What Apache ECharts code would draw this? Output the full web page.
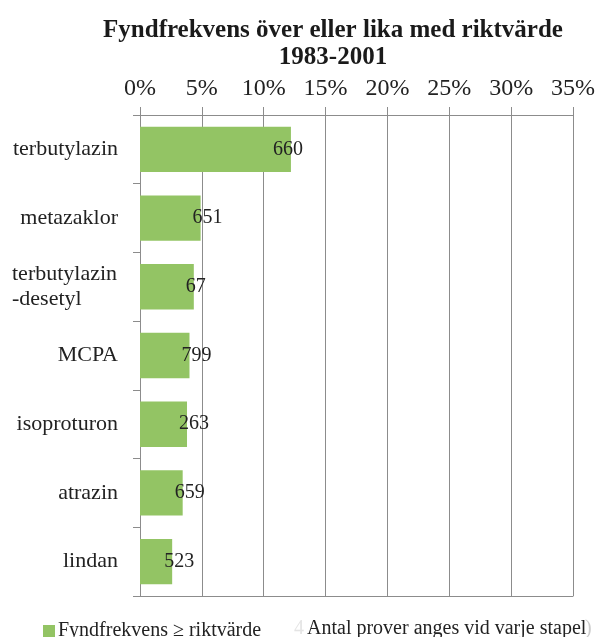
<!DOCTYPE html>
<html>
<head>
<meta charset="utf-8">
<script src="https://cdn.jsdelivr.net/npm/echarts@6/dist/echarts.min.js"></script>
<style>
  html, body { margin: 0; padding: 0; background: #fff; }
  #chart { width: 598px; height: 637px; }
</style>
</head>
<body>
<div id="chart"></div>
<script>
// Substances, top to bottom
var categories = ['terbutylazin', 'metazaklor', 'terbutylazin\n-desetyl', 'MCPA', 'isoproturon', 'atrazin', 'lindan'];
// Share of samples at or above the guideline value (%)
var frequency = [12.2, 4.9, 4.35, 4.0, 3.8, 3.45, 2.6];
// Number of samples analysed per substance
var sampleCounts = [660, 651, 67, 799, 263, 659, 523];
// Percent axis ticks
var tickValues = [0, 5, 10, 15, 20, 25, 30, 35];

var FONT = '"Liberation Serif", "Times New Roman", serif';
var TEXT = '#222222';
var LINE = '#8c8c8c';
var GREEN = '#93c464';

var chart = echarts.init(document.getElementById('chart'), null, { renderer: 'canvas' });

chart.setOption({
  backgroundColor: '#fff',
  animation: false,
  textStyle: { fontFamily: FONT, color: TEXT },
  title: {
    text: 'Fyndfrekvens över eller lika med riktvärde\n1983-2001',
    left: 328,
    top: 12,
    textAlign: 'center',
    textStyle: { fontFamily: FONT, fontWeight: 'bold', fontSize: 25, lineHeight: 27, color: '#1a1a1a' }
  },
  legend: {
    left: 38,
    top: 616,
    itemWidth: 12,
    itemHeight: 12,
    itemGap: 4,
    icon: 'rect',
    textStyle: { fontFamily: FONT, fontSize: 20, color: TEXT, padding: [0, 0, 0, -2] },
    data: ['Fyndfrekvens ≥ riktvärde']
  },
  graphic: [
    {
      type: 'text',
      left: 294,
      top: 619,
      style: { text: '4', font: '20px ' + FONT, fill: '#e4e4e4' }
    },
    {
      type: 'text',
      left: 307,
      top: 619,
      style: { text: 'Antal prover anges vid varje stapel', font: '20px ' + FONT, fill: TEXT }
    },
    {
      type: 'text',
      left: 585,
      top: 619,
      style: { text: ')', font: '20px ' + FONT, fill: '#cccccc' }
    }
  ],
  grid: { left: 140, right: 24, top: 115, bottom: 41, containLabel: false },
  xAxis: [
    {
      type: 'value',
      position: 'top',
      min: 0,
      max: 35,
      interval: 5,
      axisLine: { show: true, lineStyle: { color: LINE, width: 1 } },
      axisTick: { show: true, length: 8, lineStyle: { color: LINE } },
      axisLabel: {
        margin: 14,
        fontFamily: FONT,
        fontSize: 24,
        color: TEXT,
        formatter: function (v) { return tickValues.indexOf(v) >= 0 ? v + '%' : ''; }
      },
      splitLine: { show: true, lineStyle: { color: LINE, width: 1 } }
    },
    {
      type: 'value',
      position: 'bottom',
      min: 0,
      max: 35,
      interval: 5,
      axisLine: { show: true, lineStyle: { color: LINE, width: 1 } },
      axisTick: { show: false },
      axisLabel: { show: false },
      splitLine: { show: false }
    }
  ],
  yAxis: {
    type: 'category',
    inverse: true,
    data: categories,
    axisLine: { show: true, lineStyle: { color: LINE, width: 1 } },
    axisTick: { show: true, length: 7, alignWithLabel: false, lineStyle: { color: LINE } },
    axisLabel: {
      margin: 22,
      fontFamily: FONT,
      fontSize: 22,
      color: TEXT,
      formatter: function (v) {
        if (v.indexOf('\n') >= 0) {
          return v.split('\n').map(function (s) { return '{l|' + s + '}'; }).join('\n');
        }
        return v;
      },
      rich: {
        l: { width: 106, align: 'left', fontFamily: FONT, fontSize: 22, lineHeight: 25, color: TEXT }
      }
    }
  },
  series: [
    {
      name: 'Fyndfrekvens ≥ riktvärde',
      type: 'bar',
      xAxisIndex: 0,
      data: frequency.map(function (v, i) {
        return {
          value: v,
          label: { offset: [i === 0 ? -18 : -8, 0] }
        };
      }),
      barCategoryGap: '34%',
      itemStyle: { color: GREEN },
      label: {
        show: true,
        position: 'right',
        distance: 0,
        fontFamily: FONT,
        fontSize: 20,
        color: TEXT,
        formatter: function (p) { return String(sampleCounts[p.dataIndex]); }
      }
    }
  ]
});
</script>
</body>
</html>
